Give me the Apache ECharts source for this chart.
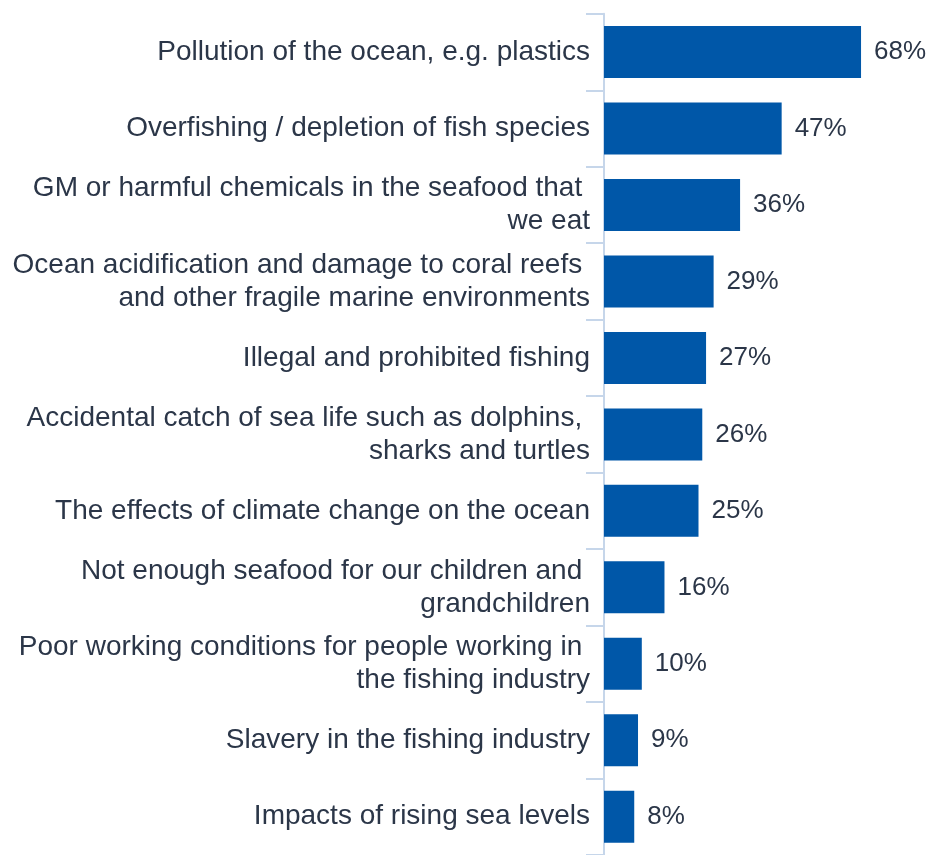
<!DOCTYPE html>
<html>
<head>
<meta charset="utf-8">
<script src="https://cdn.jsdelivr.net/npm/echarts@6/dist/echarts.min.js"></script>
<style>
html,body{margin:0;padding:0;background:#fff;}
#c{width:932px;height:855px;}
</style>
</head>
<body>
<div id="c"></div>
<script>
var categories = [
  'Pollution of the ocean, e.g. plastics',
  'Overfishing / depletion of fish species',
  'GM or harmful chemicals in the seafood that \nwe eat',
  'Ocean acidification and damage to coral reefs \nand other fragile marine environments',
  'Illegal and prohibited fishing',
  'Accidental catch of sea life such as dolphins, \nsharks and turtles',
  'The effects of climate change on the ocean',
  'Not enough seafood for our children and \ngrandchildren',
  'Poor working conditions for people working in \nthe fishing industry',
  'Slavery in the fishing industry',
  'Impacts of rising sea levels'
];
var values = [68, 47, 36, 29, 27, 26, 25, 16, 10, 9, 8];

var chart = echarts.init(document.getElementById('c'));
chart.setOption({
  animation: false,
  grid: { left: 604, top: 13.8, width: 302.4, height: 844.25, containLabel: false },
  xAxis: {
    type: 'value', min: 0, max: 80, show: false
  },
  yAxis: {
    type: 'category',
    data: categories,
    inverse: true,
    axisLine: { show: true, lineStyle: { color: '#c6d6ea', width: 2 } },
    axisTick: { show: true, length: 18, lineStyle: { color: '#c6d6ea', width: 2 } },
    axisLabel: {
      margin: 14,
      fontFamily: 'Liberation Sans, Arial, sans-serif',
      fontSize: 28,
      color: '#2b3648',
      lineHeight: 33,
      align: 'right'
    }
  },
  series: [{
    type: 'bar',
    data: values,
    barCategoryGap: '32%',
    itemStyle: { color: '#0057a8' },
    label: {
      show: true,
      position: 'right',
      distance: 13,
      formatter: '{c}%',
      fontFamily: 'Liberation Sans, Arial, sans-serif',
      fontSize: 26,
      color: '#2b3648'
    }
  }]
});
</script>
</body>
</html>
